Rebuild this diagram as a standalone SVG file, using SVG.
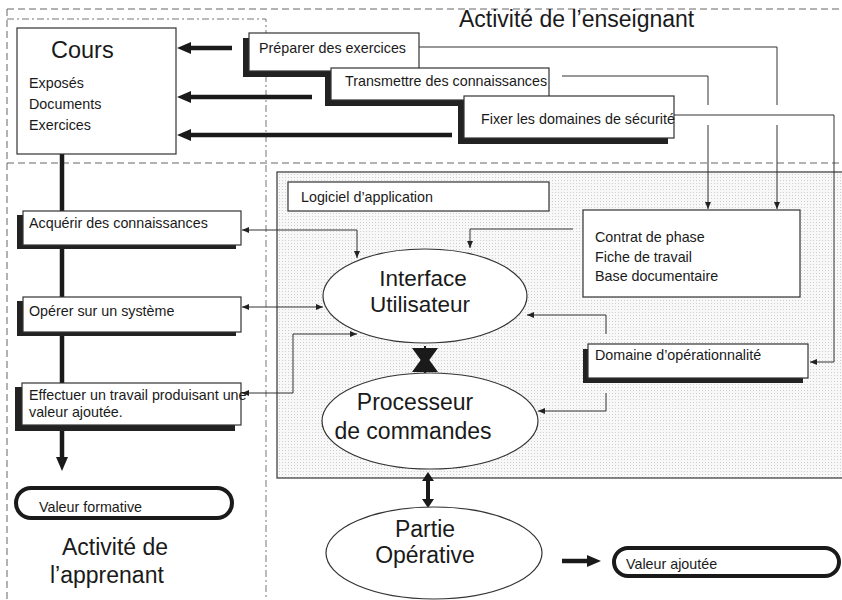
<svg xmlns="http://www.w3.org/2000/svg" width="842" height="600" viewBox="0 0 842 600">
<defs>
<style>
text{font-family:"Liberation Sans",Arial,Helvetica,sans-serif;fill:#1a1a1a}
.s{font-size:14.3px}
.b{font-size:23px}
.m{text-anchor:middle}
.box{fill:#fff;stroke:#333;stroke-width:1.2}
.sh{fill:#222}
.thin{fill:none;stroke:#333;stroke-width:1}
.thick{fill:none;stroke:#1a1a1a;stroke-width:4.5}
.dash{fill:none;stroke:#666;stroke-width:1;stroke-dasharray:7 4}
.dd{fill:none;stroke:#777;stroke-width:1;stroke-dasharray:7 3 2 3}
.ell{fill:#fff;stroke:#333;stroke-width:1.2}
.pill{fill:#fff;stroke:#1a1a1a;stroke-width:4}
</style>
<pattern id="dots" width="3" height="3" patternUnits="userSpaceOnUse"><rect width="3" height="3" fill="#f8f8f8"/><rect width="1" height="1" fill="#cfcfcf"/></pattern>
<marker id="a" markerUnits="userSpaceOnUse" markerWidth="8" markerHeight="7" refX="7" refY="3.5" orient="auto-start-reverse"><path d="M0,0.5 L7,3.5 L0,6.5z" fill="#222"/></marker>
<marker id="A" markerUnits="userSpaceOnUse" markerWidth="14" markerHeight="12" refX="0" refY="6" orient="auto-start-reverse"><path d="M0,0 L14,6 L0,12z" fill="#1a1a1a"/></marker>
<marker id="S" markerUnits="userSpaceOnUse" markerWidth="10" markerHeight="12" refX="0" refY="6" orient="auto-start-reverse"><path d="M0,0 L9,6 L0,12z" fill="#1a1a1a"/></marker>
</defs>
<rect width="842" height="600" fill="#fff"/>

<g id="frames">
<path class="dash" d="M7,9 H842 M7,9 V600 M7,163 H842"/>
<path class="dd" d="M7,19 H266 V600"/>
<text class="b" x="459" y="27">Activité de l’enseignant</text>
<text class="b" x="62" y="555">Activité de</text>
<text class="b" x="50" y="583">l’apprenant</text>
</g>

<g id="zone-logiciel">
<rect x="277" y="172" width="570" height="306" fill="url(#dots)" stroke="#444" stroke-width="1.3"/>
</g>

<g id="connectors">
<path class="thick" d="M232,48 H191" marker-end="url(#A)"/>
<path class="thick" d="M312,97 H191" marker-end="url(#A)"/>
<path class="thick" d="M452,135 H191" marker-end="url(#A)"/>
<path class="thick" d="M62,154 V457" marker-end="url(#A)"/>
<path class="thin" d="M419,47 H777 V105 M777,125 V209" marker-end="url(#a)"/>
<path class="thin" d="M562,76 H708 V105 M708,125 V209" marker-end="url(#a)"/>
<path class="thin" d="M674,115 H834 V362 H810" marker-end="url(#a)"/>
<path class="thin" d="M573,229 H470 V248" marker-end="url(#a)"/>
<path class="thin" d="M242,230 H357 V258" marker-start="url(#a)" marker-end="url(#a)"/>
<path class="thin" d="M242,307 H323" marker-start="url(#a)" marker-end="url(#a)"/>
<path class="thin" d="M242,393 H293 V334 H357" marker-start="url(#a)" marker-end="url(#a)"/>
<path class="thin" d="M606,334 V315 H527" marker-end="url(#a)"/>
<path class="thin" d="M606,393 V411 H538" marker-end="url(#a)"/>
<polygon points="412,348 438,348 425,366" fill="#1a1a1a"/>
<polygon points="412,372 438,372 425,354" fill="#1a1a1a"/>
<path fill="none" stroke="#1a1a1a" stroke-width="2" d="M425,346 V373"/>
<path fill="none" stroke="#1a1a1a" stroke-width="4" d="M428,481 V499" marker-start="url(#S)" marker-end="url(#S)"/>
<path class="thick" d="M562,561 H587" marker-end="url(#A)"/>
</g>

<g id="cours">
<rect class="box" x="17" y="28" width="159" height="126"/>
<text x="51" y="58" style="font-size:23.5px">Cours</text>
<text class="s" x="29" y="88">Exposés</text>
<text class="s" x="29" y="109">Documents</text>
<text class="s" x="29" y="130">Exercices</text>
</g>

<g id="preparer">
<rect class="sh" x="243" y="38" width="170" height="39"/>
<rect class="box" x="249" y="33" width="170" height="38"/>
<text class="s" x="259" y="53">Préparer des exercices</text>
</g>
<g id="transmettre">
<rect class="sh" x="325" y="73" width="218" height="33"/>
<rect class="box" x="331" y="68" width="218" height="32"/>
<text class="s" x="345" y="86">Transmettre des connaissances</text>
</g>
<g id="fixer">
<rect class="sh" x="458" y="101" width="210" height="43"/>
<rect class="box" x="464" y="96" width="210" height="42"/>
<text class="s" x="481" y="124">Fixer les domaines de sécurité</text>
</g>

<g id="acquerir">
<rect class="sh" x="17" y="215" width="219" height="34"/>
<rect class="box" x="23" y="211" width="218" height="34"/>
<text class="s" x="29" y="228">Acquérir des connaissances</text>
</g>
<g id="operer">
<rect class="sh" x="17" y="301" width="219" height="35"/>
<rect class="box" x="23" y="297" width="218" height="35"/>
<text class="s" x="29" y="316">Opérer sur un système</text>
</g>
<g id="effectuer">
<rect class="sh" x="15" y="387" width="220" height="44"/>
<rect class="box" x="22" y="383" width="219" height="42"/>
<text class="s" x="29" y="400">Effectuer un travail produisant une</text>
<text class="s" x="29" y="416.5">valeur ajoutée.</text>
</g>

<g id="valeur-formative">
<rect class="pill" x="16" y="488" width="216" height="30" rx="15"/>
<text class="s" x="39" y="512">Valeur formative</text>
</g>

<g id="logiciel">
<rect class="box" x="288" y="182" width="261" height="29"/>
<text class="s" x="301" y="202">Logiciel d’application</text>
</g>

<g id="contrat">
<rect class="box" x="583" y="210" width="217" height="87" stroke-width="1.5"/>
<text class="s" x="595" y="242">Contrat de phase</text>
<text class="s" x="595" y="262">Fiche de travail</text>
<text class="s" x="595" y="281">Base documentaire</text>
</g>

<g id="domaine">
<rect class="sh" x="583" y="349" width="220" height="34"/>
<rect class="box" x="588" y="344" width="220" height="34"/>
<text class="s" x="595" y="360">Domaine d’opérationnalité</text>
</g>

<g id="interface">
<ellipse class="ell" cx="425" cy="296" rx="102" ry="47"/>
<text class="m" x="423" y="286" style="font-size:22.5px">Interface</text>
<text class="m" x="420" y="312" style="font-size:22.5px">Utilisateur</text>
</g>

<g id="processeur">
<ellipse class="ell" cx="430" cy="421" rx="108" ry="48"/>
<text class="b m" x="415" y="410">Processeur</text>
<text class="b m" x="413" y="439">de commandes</text>
</g>

<g id="partie">
<ellipse class="ell" cx="434" cy="553" rx="108" ry="46"/>
<text class="b m" x="425" y="537">Partie</text>
<text class="b m" x="425" y="563">Opérative</text>
</g>

<g id="valeur-ajoutee">
<rect class="pill" x="614" y="548" width="225" height="28" rx="14"/>
<text class="s" x="626" y="569">Valeur ajoutée</text>
</g>
</svg>
